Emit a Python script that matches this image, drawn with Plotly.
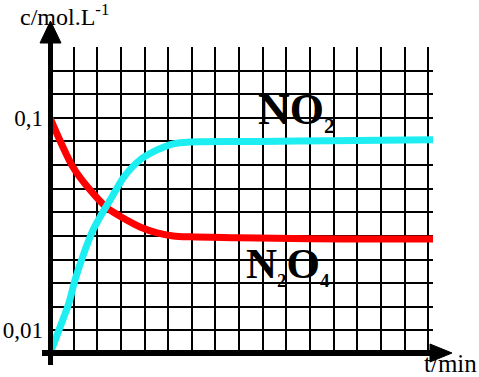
import plotly.graph_objects as go

# ---- data (time in grid units, concentration in mol/L) ----
t_n2o4 = [0, 0.97, 1.69, 2.41, 3.09, 3.81, 4.53, 5.21, 5.93, 8.0, 11.0, 14.0, 16.2]
c_n2o4 = [0.100, 0.0792, 0.0695, 0.0619, 0.0576, 0.0538, 0.0513, 0.0500, 0.0496,
          0.0492, 0.0488, 0.0487, 0.0487]

t_no2 = [0, 0.38, 0.80, 1.06, 1.44, 1.82, 2.12, 2.62, 3.13, 3.81, 4.53, 5.21, 5.93, 8.89, 11.85, 16.2]
c_no2 = [0.0, 0.0102, 0.0216, 0.0314, 0.0428, 0.0525, 0.0581, 0.0665, 0.0750, 0.0822,
         0.0864, 0.0890, 0.0898, 0.0900, 0.0903, 0.0907]

y_tickvals = [0.01, 0.1]
y_ticktext = ["0,01", "0,1"]

SERIF = "Liberation Serif, Times New Roman, serif"

fig = go.Figure()
fig.add_trace(go.Scatter(x=t_n2o4, y=c_n2o4, mode="lines", line=dict(color="#FF0000", width=7, shape="spline", smoothing=0.8),
                         name="N2O4", showlegend=False, hoverinfo="skip"))
fig.add_trace(go.Scatter(x=t_no2, y=c_no2, mode="lines", line=dict(color="#1CEEF2", width=7, shape="spline", smoothing=0.8),
                         name="NO2", showlegend=False, hoverinfo="skip"))

L, T, W, H = 50, 47, 383, 307
def px(x):
    return (x - L) / W
def py(y):
    return (T + H - y) / H

shapes = [
    # hide horizontal gridline overhang beyond last column (above grid, below traces)
    dict(type="rect", xref="x", yref="paper", x0=16.03, x1=16.3, y0=-0.01, y1=1.01,
         fillcolor="white", line=dict(width=0), layer="between"),
    # y axis line
    dict(type="line", xref="paper", yref="paper", x0=px(50.5), x1=px(50.5), y0=py(365), y1=py(42),
         line=dict(color="black", width=5), layer="above"),
    # y arrow head
    dict(type="path", xref="paper", yref="paper",
         path=f"M {px(40)},{py(43)} L {px(61)},{py(43)} L {px(50.5)},{py(21)} Z",
         fillcolor="black", line=dict(color="black", width=1), layer="above"),
    # x axis line
    dict(type="line", xref="paper", yref="paper", x0=px(42), x1=px(432), y0=py(353), y1=py(353),
         line=dict(color="black", width=6), layer="above"),
    # x arrow head
    dict(type="path", xref="paper", yref="paper",
         path=f"M {px(430)},{py(344)} L {px(430)},{py(362)} L {px(452)},{py(353)} Z",
         fillcolor="black", line=dict(color="black", width=1), layer="above"),
]

annotations = [
    dict(text="c/mol.L<sup>-1</sup>", xref="paper", yref="paper", x=px(18), y=py(15),
         xanchor="left", yanchor="middle", showarrow=False,
         font=dict(family=SERIF, size=24, color="black")),
    dict(text="t/min", xref="paper", yref="paper", x=px(422), y=py(363),
         xanchor="left", yanchor="middle", showarrow=False,
         font=dict(family=SERIF, size=25, color="black")),
    dict(text="<b>NO<sub><span style='font-size:22px'>2</span></sub></b>", xref="paper", yref="paper",
         x=px(256), y=py(111), xanchor="left", yanchor="middle", showarrow=False,
         font=dict(family=SERIF, size=44, color="black")),
    dict(text="<b>N<sub><span style='font-size:19px'>2</span></sub>O<sub><span style='font-size:19px'>4</span></sub></b>",
         xref="paper", yref="paper",
         x=px(244), y=py(265), xanchor="left", yanchor="middle", showarrow=False,
         font=dict(family=SERIF, size=43, color="black")),
]

fig.update_layout(
    template="none",
    width=479, height=377,
    margin=dict(l=L, r=479 - L - W, t=T, b=377 - T - H, autoexpand=False),
    paper_bgcolor="white", plot_bgcolor="white",
    shapes=shapes, annotations=annotations,
    xaxis=dict(range=[0, 16.2], tick0=0, dtick=1, showgrid=True, gridcolor="black", gridwidth=1.5,
               showticklabels=False, ticks="", zeroline=False, showline=False, fixedrange=True,
               automargin=False),
    yaxis=dict(range=[0, 0.13], tickmode="array", tickvals=y_tickvals, ticktext=y_ticktext,
               showgrid=True, gridcolor="black", gridwidth=1.5, ticks="", zeroline=False, showline=False,
               minor=dict(tickmode="linear", tick0=0, dtick=0.01, showgrid=True, gridcolor="black",
                          gridwidth=1.5, ticks=""),
               ticklabelstandoff=6, tickfont=dict(family=SERIF, size=23, color="black"),
               fixedrange=True, automargin=False),
)

fig.write_html("out.html", config=dict(displayModeBar=False),
               post_script="document.body.style.margin='0';document.body.style.overflow='hidden';")
